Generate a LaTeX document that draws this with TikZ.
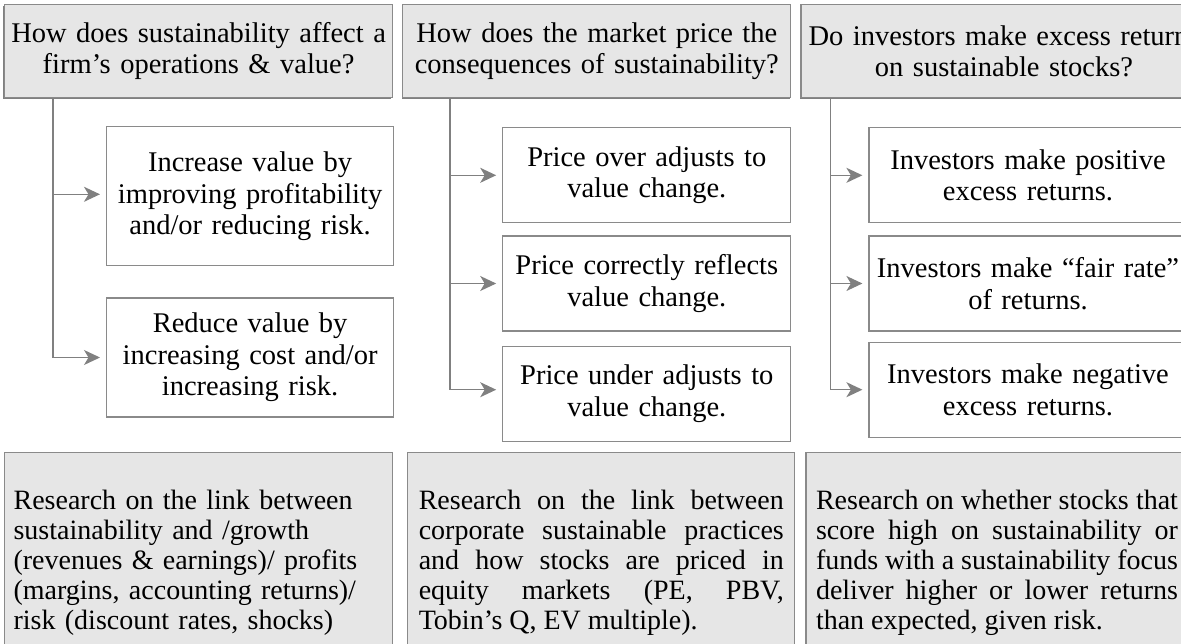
\documentclass[tikz,border=0pt]{standalone}
\usepackage{fontspec}
\setmainfont{Liberation Serif}
\usepackage{tikz}
\usetikzlibrary{arrows.meta,positioning,shadows}
\definecolor{LineGray}{HTML}{8A8A8A}
\definecolor{ArrowGray}{HTML}{808080}
\definecolor{PaleGray}{HTML}{E6E6E6}
\newcommand{\boxfont}{\fontsize{28.5pt}{31.5pt}\selectfont}
\newcommand{\notefont}{\fontsize{28pt}{30pt}\selectfont}
\tikzset{
  qbox/.style={draw=LineGray,line width=1.2pt,fill=PaleGray,align=center,
               text width=380pt,inner xsep=4pt,inner ysep=0pt,minimum height=93pt,font=\boxfont,
               drop shadow={shadow xshift=-1.2pt,shadow yshift=-1.8pt,fill=black!50,opacity=1}},
  optbox/.style={draw=LineGray,line width=1.2pt,fill=white,align=center,
               text width=280pt,inner xsep=4pt,inner ysep=0pt,minimum height=95pt,font=\boxfont},
  notebox/.style={draw=LineGray,line width=1.2pt,fill=PaleGray,align=justify,
               inner ysep=0pt,minimum height=220pt,font=\notefont},
  flow/.style={-{Stealth[length=16pt,width=15pt,inset=4.5pt]},line width=1.5pt,draw=ArrowGray,shorten >=6pt}
}

\begin{document}
\begin{tikzpicture}[x=1pt,y=-1pt]
  \useasboundingbox (0,0) rectangle (1181,644);
  \clip (0,0) rectangle (1181,644);

  % questions along the top
  \node[qbox,anchor=north west] (q1) at (4,4) {How does sustainability affect a\\firm’s operations \& value?};
  \node[qbox,right=9pt of q1] (q2) {How does the market price the\\consequences of sustainability?};
  \node[qbox,right=9pt of q2,text width=394pt,inner xsep=6pt] (q3) {Do investors make excess returns\\on sustainable stocks?};

  % possible answers under each question
  \node[optbox,below right=28pt and 102pt of q1.south west,text width=279pt,minimum height=139pt] (a1) {Increase value by\\improving profitability\\and/or reducing risk.};
  \node[optbox,below=31pt of a1,text width=279pt,minimum height=119pt] (a2) {Reduce value by\\increasing cost and/or\\increasing risk.};

  \node[optbox,below right=29pt and 100pt of q2.south west] (p1) {Price over adjusts to\\value change.};
  \node[optbox,below=12pt of p1] (p2) {Price correctly reflects\\value change.};
  \node[optbox,below=14pt of p2] (p3) {Price under adjusts to\\value change.};

  \node[optbox,below right=29pt and 68pt of q3.south west,text width=308pt,inner xsep=5pt] (i1) {Investors make positive\\excess returns.};
  \node[optbox,below=12pt of i1,text width=308pt,inner xsep=5pt] (i2) {Investors make “fair rate”\\of returns.};
  \node[optbox,below=10pt of i2,text width=308pt,inner xsep=5pt] (i3) {Investors make negative\\excess returns.};

  % research summaries
  \node[notebox,anchor=north west,text width=370pt,inner xsep=9pt,align=left] (r1) at (4,452)
    {Research on the link between\\sustainability and /growth\\(revenues \& earnings)/ profits\\(margins, accounting returns)/\\risk (discount rates, shocks)};
  \node[notebox,right=14pt of r1,text width=365pt,inner xsep=11pt] (r2)
    {Research on the link between\linebreak corporate sustainable practices\linebreak and how stocks are priced in\linebreak equity markets (PE, PBV,\linebreak Tobin’s Q, EV multiple).};
  \node[notebox,right=10pt of r2,text width=362pt,inner xsep=10pt] (r3)
    {Research on whether stocks that\linebreak score high on sustainability or\linebreak funds with a sustainability focus\linebreak deliver higher or lower returns\linebreak than expected, given risk.};

  \draw[flow] ([xshift=49pt]q1.south west) |- ([yshift=2pt]a1.west);
  \draw[flow] ([xshift=49pt]q1.south west) |- (a2.west);
  \draw[flow] ([xshift=48pt]q2.south west) |- (p1.west);
  \draw[flow] ([xshift=48pt]q2.south west) |- (p2.west);
  \draw[flow] ([xshift=48pt]q2.south west) |- ([yshift=4pt]p3.west);
  \draw[flow] ([xshift=30pt]q3.south west) |- (i1.west);
  \draw[flow] ([xshift=30pt]q3.south west) |- (i2.west);
  \draw[flow] ([xshift=30pt]q3.south west) |- (i3.west);
\end{tikzpicture}
\end{document}
